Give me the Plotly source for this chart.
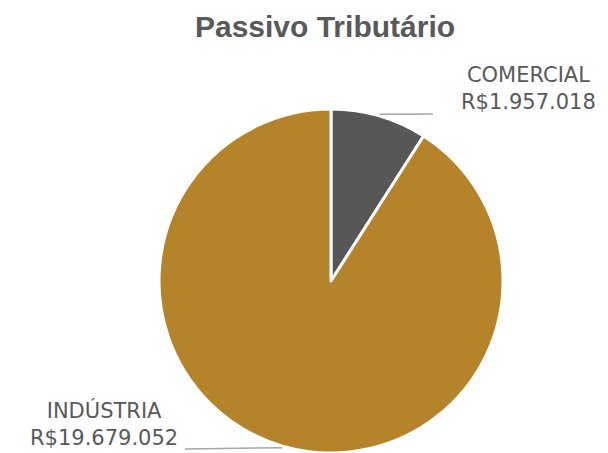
import math
import plotly.graph_objects as go

categories = ["COMERCIAL", "INDÚSTRIA"]
values = [1957018, 19679052]
value_labels = ["R$1.957.018", "R$19.679.052"]
colors = ["#575757", "#B5842A"]

W, H = 608, 453
cx, cy, R = 331, 281, 172  # pie centre / radius in pixels (from top-left)

fig = go.Figure(go.Pie(
    labels=categories, values=values, sort=False, direction="clockwise", rotation=0,
    marker=dict(colors=colors, line=dict(color="white", width=3)),
    textinfo="none", hoverinfo="label+value", showlegend=False,
    domain=dict(x=[(cx - R) / W, (cx + R) / W], y=[max(0, (H - cy - R) / H), (H - cy + R) / H]),
))

# label positions and leader-line ends (pixels)
label_pos = [(528, 88), (104, 424)]
line_end = [(433, 114), (185, 449)]
total = sum(values)
start = 0.0
for i, v in enumerate(values):
    frac = v / total
    mid = (start + frac / 2) * 2 * math.pi
    start += frac
    ax = cx + R * 1.01 * math.sin(mid)
    ay = cy - R * 1.01 * math.cos(mid)
    ex, ey = line_end[i]
    fig.add_shape(type="line", xref="paper", yref="paper",
                  x0=ax / W, y0=1 - ay / H, x1=ex / W, y1=1 - ey / H,
                  line=dict(color="#A6A6A6", width=1.5))
    lx, ly = label_pos[i]
    fig.add_annotation(xref="paper", yref="paper", x=lx / W, y=1 - ly / H,
                       text=f"{categories[i]}<br>{value_labels[i]}", showarrow=False,
                       xanchor="center", yanchor="middle",
                       font=dict(family="DejaVu Sans, Verdana, sans-serif", size=21, color="#595959"))

fig.update_layout(
    width=W, height=H, margin=dict(l=0, r=0, t=0, b=0),
    paper_bgcolor="white", plot_bgcolor="white",
    title=dict(text="<b>Passivo Tributário</b>", x=325 / W, y=1 - 26 / H,
               xanchor="center", yanchor="middle",
               font=dict(family="Liberation Sans, Arial, sans-serif", size=30, color="#595959")),
)
fig.write_html("out.html", config={"displayModeBar": False},
               post_script="document.body.style.margin='0';document.body.style.overflow='hidden';")
